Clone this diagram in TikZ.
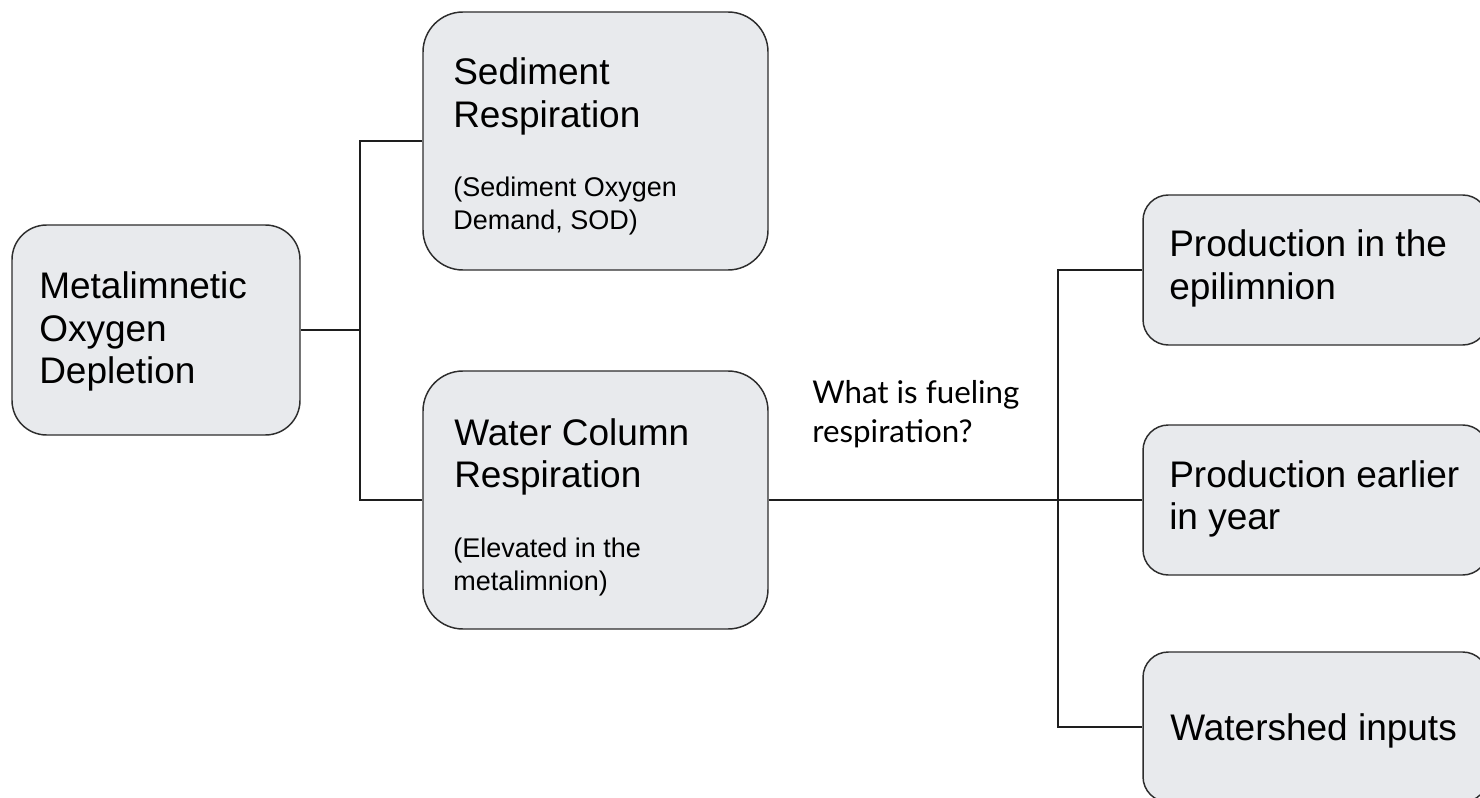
\documentclass[tikz,border=0pt]{standalone}
\usepackage{fontspec}
\setmainfont{Liberation Sans}
\newfontfamily\latofont{Lato}
\definecolor{boxfill}{RGB}{232,234,237}
\definecolor{boxline}{RGB}{45,45,45}
\definecolor{wire}{RGB}{30,30,30}
\newcommand{\bigtxt}{\fontsize{27.75pt}{31.75pt}\selectfont}
\newcommand{\smalltxt}{\fontsize{20.25pt}{24.75pt}\selectfont}
\newcommand{\stack}[1]{\parbox[t]{9cm}{\raggedright #1}}
\tikzset{
  card/.style={draw=boxline, line width=1.1pt, fill=boxfill, inner sep=0pt},
  bigcard/.style={card, minimum width=258.75pt, minimum height=193.5pt, rounded corners=30pt},
  leftcard/.style={card, minimum width=216pt, minimum height=157.5pt, rounded corners=26pt},
  sidecard/.style={card, minimum width=258.75pt, minimum height=112.5pt, rounded corners=19pt},
  label/.style={inner sep=0pt, anchor=base west},
  wireline/.style={draw=wire, line width=1.5pt},
}
\begin{document}
\begin{tikzpicture}[x=0.75pt, y=-0.75pt]
  \useasboundingbox (0,0) rectangle (1480,798);
  \clip (0,0) rectangle (1480,798);

  % boxes
  \node[leftcard] (metal) at (156,330) {};
  \node[bigcard] (sed) at (595.5,141) {};
  \node[bigcard] (wat) at (595.5,500) {};
  \node[sidecard] (p1) at (1315.5,270) {};
  \node[sidecard] (p2) at (1315.5,500) {};
  \node[sidecard] (p3) at (1315.5,727) {};

  % box texts
  \node[label] (metaltxt) at (39,299) {\bigtxt\stack{Metalimnetic\\Oxygen\\Depletion}};
  \node[label] (sedtxt) at (453,85) {\bigtxt\stack{Sediment\\Respiration}};
  \node[label] (sednote) at (453,197) {\smalltxt\stack{(Sediment Oxygen\\Demand, SOD)}};
  \node[label] (wattxt) at (454,445) {\bigtxt\stack{Water Column\\Respiration}};
  \node[label] (watnote) at (453,557) {\smalltxt\stack{(Elevated in the\\metalimnion)}};
  \node[label] (p1txt) at (1169,257) {\bigtxt\stack{Production in the\\epilimnion}};
  \node[label] (p2txt) at (1169,487) {\bigtxt\stack{Production earlier\\in year}};
  \node[label] (p3txt) at (1170,740) {\bigtxt Watershed inputs};

  % question label
  \node[label] (question) at (812,403)
    {\latofont\fontsize{23.5pt}{29.25pt}\selectfont\stack{What is fueling\\respiration?}};

  % connectors
  \coordinate (j1) at (360,330);
  \coordinate (j2) at (1058,500);
  \draw[wireline] (metal.east) -- (j1);
  \draw[wireline] (j1) |- (sed.west);
  \draw[wireline] (j1) |- (wat.west);
  \draw[wireline] (wat.east) -- (j2);
  \draw[wireline] (j2) |- (p1.west);
  \draw[wireline] (j2) |- (p2.west);
  \draw[wireline] (j2) |- (p3.west);
\end{tikzpicture}
\end{document}
